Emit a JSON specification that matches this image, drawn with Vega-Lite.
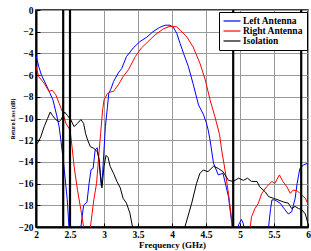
{
  "$schema": "https://vega.github.io/schema/vega-lite/v6.json",
  "width": 272,
  "height": 217,
  "autosize": {"type": "none"},
  "padding": {"left": 36, "top": 10, "right": 3, "bottom": 24},
  "background": "white",
  "config": {
    "view": {"stroke": "black", "strokeWidth": 1.5},
    "axis": {
      "labelFont": "Liberation Serif",
      "labelFontWeight": "bold",
      "labelFontSize": 9.5,
      "labelColor": "black",
      "labelOverlap": false,
      "titleFont": "Liberation Serif",
      "titleFontWeight": "bold",
      "titleColor": "black",
      "gridColor": "#999999",
      "gridWidth": 1,
      "gridOpacity": 1,
      "domainColor": "black",
      "domainWidth": 2,
      "tickColor": "black",
      "tickSize": -4,
      "tickWidth": 1
    }
  },
  "datasets": {
    "curves": [
      {"freq": 2.0, "loss": -4.2, "series": "Left Antenna"},
      {"freq": 2.04, "loss": -5.2, "series": "Left Antenna"},
      {"freq": 2.08, "loss": -6.0, "series": "Left Antenna"},
      {"freq": 2.15, "loss": -6.9, "series": "Left Antenna"},
      {"freq": 2.2, "loss": -7.6, "series": "Left Antenna"},
      {"freq": 2.25, "loss": -8.3, "series": "Left Antenna"},
      {"freq": 2.3, "loss": -9.6, "series": "Left Antenna"},
      {"freq": 2.34, "loss": -10.75, "series": "Left Antenna"},
      {"freq": 2.37, "loss": -12.2, "series": "Left Antenna"},
      {"freq": 2.4, "loss": -13.8, "series": "Left Antenna"},
      {"freq": 2.43, "loss": -15.6, "series": "Left Antenna"},
      {"freq": 2.46, "loss": -17.5, "series": "Left Antenna"},
      {"freq": 2.485, "loss": -20, "series": "Left Antenna"},
      {"freq": 2.5, "loss": -22, "series": "Left Antenna"},
      {"freq": 2.64, "loss": -22, "series": "Left Antenna"},
      {"freq": 2.66, "loss": -20, "series": "Left Antenna"},
      {"freq": 2.7, "loss": -18, "series": "Left Antenna"},
      {"freq": 2.75, "loss": -17.7, "series": "Left Antenna"},
      {"freq": 2.78, "loss": -16, "series": "Left Antenna"},
      {"freq": 2.81, "loss": -14.7, "series": "Left Antenna"},
      {"freq": 2.84, "loss": -14.6, "series": "Left Antenna"},
      {"freq": 2.87, "loss": -12.9, "series": "Left Antenna"},
      {"freq": 2.9, "loss": -12.7, "series": "Left Antenna"},
      {"freq": 2.92, "loss": -13.5, "series": "Left Antenna"},
      {"freq": 2.96, "loss": -16.2, "series": "Left Antenna"},
      {"freq": 2.98, "loss": -15.0, "series": "Left Antenna"},
      {"freq": 3.0, "loss": -12.9, "series": "Left Antenna"},
      {"freq": 3.02, "loss": -10.75, "series": "Left Antenna"},
      {"freq": 3.05, "loss": -9.0, "series": "Left Antenna"},
      {"freq": 3.07, "loss": -7.7, "series": "Left Antenna"},
      {"freq": 3.1, "loss": -7.3, "series": "Left Antenna"},
      {"freq": 3.14, "loss": -6.6, "series": "Left Antenna"},
      {"freq": 3.21, "loss": -5.8, "series": "Left Antenna"},
      {"freq": 3.26, "loss": -5.4, "series": "Left Antenna"},
      {"freq": 3.33, "loss": -4.3, "series": "Left Antenna"},
      {"freq": 3.43, "loss": -3.5, "series": "Left Antenna"},
      {"freq": 3.53, "loss": -2.9, "series": "Left Antenna"},
      {"freq": 3.63, "loss": -2.5, "series": "Left Antenna"},
      {"freq": 3.72, "loss": -2.0, "series": "Left Antenna"},
      {"freq": 3.82, "loss": -1.6, "series": "Left Antenna"},
      {"freq": 3.9, "loss": -1.4, "series": "Left Antenna"},
      {"freq": 3.97, "loss": -1.4, "series": "Left Antenna"},
      {"freq": 4.02, "loss": -1.6, "series": "Left Antenna"},
      {"freq": 4.07, "loss": -2.15, "series": "Left Antenna"},
      {"freq": 4.12, "loss": -3.1, "series": "Left Antenna"},
      {"freq": 4.17, "loss": -4.0, "series": "Left Antenna"},
      {"freq": 4.24, "loss": -5.2, "series": "Left Antenna"},
      {"freq": 4.31, "loss": -6.8, "series": "Left Antenna"},
      {"freq": 4.39, "loss": -8.75, "series": "Left Antenna"},
      {"freq": 4.46, "loss": -9.6, "series": "Left Antenna"},
      {"freq": 4.5, "loss": -10.3, "series": "Left Antenna"},
      {"freq": 4.53, "loss": -11.0, "series": "Left Antenna"},
      {"freq": 4.56, "loss": -12.0, "series": "Left Antenna"},
      {"freq": 4.61, "loss": -14.1, "series": "Left Antenna"},
      {"freq": 4.68, "loss": -15.2, "series": "Left Antenna"},
      {"freq": 4.75, "loss": -15.05, "series": "Left Antenna"},
      {"freq": 4.83, "loss": -17.2, "series": "Left Antenna"},
      {"freq": 4.88, "loss": -19.7, "series": "Left Antenna"},
      {"freq": 4.9, "loss": -21, "series": "Left Antenna"},
      {"freq": 4.96, "loss": -21, "series": "Left Antenna"},
      {"freq": 4.98, "loss": -19.8, "series": "Left Antenna"},
      {"freq": 5.02, "loss": -19.3, "series": "Left Antenna"},
      {"freq": 5.05, "loss": -19.7, "series": "Left Antenna"},
      {"freq": 5.07, "loss": -21, "series": "Left Antenna"},
      {"freq": 5.4, "loss": -22, "series": "Left Antenna"},
      {"freq": 5.42, "loss": -20, "series": "Left Antenna"},
      {"freq": 5.45, "loss": -18.3, "series": "Left Antenna"},
      {"freq": 5.47, "loss": -17.5, "series": "Left Antenna"},
      {"freq": 5.51, "loss": -17.5, "series": "Left Antenna"},
      {"freq": 5.59, "loss": -17.8, "series": "Left Antenna"},
      {"freq": 5.66, "loss": -18.4, "series": "Left Antenna"},
      {"freq": 5.71, "loss": -18.8, "series": "Left Antenna"},
      {"freq": 5.76, "loss": -18.6, "series": "Left Antenna"},
      {"freq": 5.81, "loss": -17.4, "series": "Left Antenna"},
      {"freq": 5.84, "loss": -16.0, "series": "Left Antenna"},
      {"freq": 5.88, "loss": -14.6, "series": "Left Antenna"},
      {"freq": 5.93, "loss": -14.3, "series": "Left Antenna"},
      {"freq": 6.0, "loss": -14.1, "series": "Left Antenna"},

      {"freq": 2.0, "loss": -5.2, "series": "Right Antenna"},
      {"freq": 2.04, "loss": -6.15, "series": "Right Antenna"},
      {"freq": 2.12, "loss": -6.75, "series": "Right Antenna"},
      {"freq": 2.19, "loss": -7.5, "series": "Right Antenna"},
      {"freq": 2.24, "loss": -7.4, "series": "Right Antenna"},
      {"freq": 2.29, "loss": -7.8, "series": "Right Antenna"},
      {"freq": 2.34, "loss": -8.6, "series": "Right Antenna"},
      {"freq": 2.39, "loss": -9.4, "series": "Right Antenna"},
      {"freq": 2.44, "loss": -10.45, "series": "Right Antenna"},
      {"freq": 2.5, "loss": -11.05, "series": "Right Antenna"},
      {"freq": 2.53, "loss": -12.6, "series": "Right Antenna"},
      {"freq": 2.56, "loss": -14.4, "series": "Right Antenna"},
      {"freq": 2.61, "loss": -16.6, "series": "Right Antenna"},
      {"freq": 2.66, "loss": -18.4, "series": "Right Antenna"},
      {"freq": 2.7, "loss": -20, "series": "Right Antenna"},
      {"freq": 2.72, "loss": -22, "series": "Right Antenna"},
      {"freq": 2.78, "loss": -22, "series": "Right Antenna"},
      {"freq": 2.8, "loss": -20, "series": "Right Antenna"},
      {"freq": 2.85, "loss": -17.5, "series": "Right Antenna"},
      {"freq": 2.89, "loss": -16.0, "series": "Right Antenna"},
      {"freq": 2.93, "loss": -12.9, "series": "Right Antenna"},
      {"freq": 2.95, "loss": -11.4, "series": "Right Antenna"},
      {"freq": 2.98, "loss": -9.2, "series": "Right Antenna"},
      {"freq": 3.0, "loss": -8.3, "series": "Right Antenna"},
      {"freq": 3.05, "loss": -7.7, "series": "Right Antenna"},
      {"freq": 3.1, "loss": -7.55, "series": "Right Antenna"},
      {"freq": 3.14, "loss": -7.5, "series": "Right Antenna"},
      {"freq": 3.21, "loss": -6.9, "series": "Right Antenna"},
      {"freq": 3.28, "loss": -6.15, "series": "Right Antenna"},
      {"freq": 3.36, "loss": -5.5, "series": "Right Antenna"},
      {"freq": 3.46, "loss": -4.3, "series": "Right Antenna"},
      {"freq": 3.55, "loss": -3.5, "series": "Right Antenna"},
      {"freq": 3.65, "loss": -2.9, "series": "Right Antenna"},
      {"freq": 3.75, "loss": -2.3, "series": "Right Antenna"},
      {"freq": 3.87, "loss": -1.75, "series": "Right Antenna"},
      {"freq": 3.97, "loss": -1.5, "series": "Right Antenna"},
      {"freq": 4.07, "loss": -1.55, "series": "Right Antenna"},
      {"freq": 4.12, "loss": -1.85, "series": "Right Antenna"},
      {"freq": 4.22, "loss": -2.5, "series": "Right Antenna"},
      {"freq": 4.31, "loss": -3.4, "series": "Right Antenna"},
      {"freq": 4.41, "loss": -4.9, "series": "Right Antenna"},
      {"freq": 4.49, "loss": -6.45, "series": "Right Antenna"},
      {"freq": 4.56, "loss": -8.3, "series": "Right Antenna"},
      {"freq": 4.63, "loss": -9.8, "series": "Right Antenna"},
      {"freq": 4.7, "loss": -11.5, "series": "Right Antenna"},
      {"freq": 4.73, "loss": -12.9, "series": "Right Antenna"},
      {"freq": 4.78, "loss": -14.75, "series": "Right Antenna"},
      {"freq": 4.83, "loss": -16.9, "series": "Right Antenna"},
      {"freq": 4.88, "loss": -19.4, "series": "Right Antenna"},
      {"freq": 4.9, "loss": -21, "series": "Right Antenna"},
      {"freq": 5.12, "loss": -21, "series": "Right Antenna"},
      {"freq": 5.15, "loss": -20, "series": "Right Antenna"},
      {"freq": 5.17, "loss": -19.05, "series": "Right Antenna"},
      {"freq": 5.22, "loss": -18.3, "series": "Right Antenna"},
      {"freq": 5.27, "loss": -17.8, "series": "Right Antenna"},
      {"freq": 5.32, "loss": -16.9, "series": "Right Antenna"},
      {"freq": 5.39, "loss": -16.3, "series": "Right Antenna"},
      {"freq": 5.47, "loss": -15.8, "series": "Right Antenna"},
      {"freq": 5.51, "loss": -16.0, "series": "Right Antenna"},
      {"freq": 5.58, "loss": -15.2, "series": "Right Antenna"},
      {"freq": 5.63, "loss": -15.8, "series": "Right Antenna"},
      {"freq": 5.69, "loss": -16.3, "series": "Right Antenna"},
      {"freq": 5.74, "loss": -16.9, "series": "Right Antenna"},
      {"freq": 5.78, "loss": -16.6, "series": "Right Antenna"},
      {"freq": 5.84, "loss": -16.65, "series": "Right Antenna"},
      {"freq": 5.88, "loss": -16.9, "series": "Right Antenna"},
      {"freq": 5.96, "loss": -17.35, "series": "Right Antenna"},
      {"freq": 6.0, "loss": -17.9, "series": "Right Antenna"},

      {"freq": 2.0, "loss": -12.4, "series": "Isolation"},
      {"freq": 2.02, "loss": -12.3, "series": "Isolation"},
      {"freq": 2.07, "loss": -11.7, "series": "Isolation"},
      {"freq": 2.12, "loss": -10.75, "series": "Isolation"},
      {"freq": 2.17, "loss": -10.0, "series": "Isolation"},
      {"freq": 2.21, "loss": -9.4, "series": "Isolation"},
      {"freq": 2.24, "loss": -9.7, "series": "Isolation"},
      {"freq": 2.29, "loss": -10.1, "series": "Isolation"},
      {"freq": 2.34, "loss": -10.3, "series": "Isolation"},
      {"freq": 2.37, "loss": -10.1, "series": "Isolation"},
      {"freq": 2.42, "loss": -9.4, "series": "Isolation"},
      {"freq": 2.46, "loss": -9.7, "series": "Isolation"},
      {"freq": 2.51, "loss": -10.1, "series": "Isolation"},
      {"freq": 2.56, "loss": -10.75, "series": "Isolation"},
      {"freq": 2.61, "loss": -10.45, "series": "Isolation"},
      {"freq": 2.66, "loss": -10.1, "series": "Isolation"},
      {"freq": 2.7, "loss": -10.45, "series": "Isolation"},
      {"freq": 2.73, "loss": -11.4, "series": "Isolation"},
      {"freq": 2.76, "loss": -12.0, "series": "Isolation"},
      {"freq": 2.8, "loss": -12.6, "series": "Isolation"},
      {"freq": 2.85, "loss": -12.75, "series": "Isolation"},
      {"freq": 2.9, "loss": -13.05, "series": "Isolation"},
      {"freq": 2.93, "loss": -13.8, "series": "Isolation"},
      {"freq": 2.95, "loss": -15.4, "series": "Isolation"},
      {"freq": 2.97, "loss": -16.4, "series": "Isolation"},
      {"freq": 3.0, "loss": -14.4, "series": "Isolation"},
      {"freq": 3.03, "loss": -13.4, "series": "Isolation"},
      {"freq": 3.06, "loss": -13.6, "series": "Isolation"},
      {"freq": 3.09, "loss": -14.4, "series": "Isolation"},
      {"freq": 3.14, "loss": -15.05, "series": "Isolation"},
      {"freq": 3.19, "loss": -15.8, "series": "Isolation"},
      {"freq": 3.24, "loss": -16.4, "series": "Isolation"},
      {"freq": 3.28, "loss": -17.35, "series": "Isolation"},
      {"freq": 3.33, "loss": -17.8, "series": "Isolation"},
      {"freq": 3.38, "loss": -18.7, "series": "Isolation"},
      {"freq": 3.42, "loss": -20, "series": "Isolation"},
      {"freq": 3.44, "loss": -22, "series": "Isolation"},
      {"freq": 4.15, "loss": -22, "series": "Isolation"},
      {"freq": 4.19, "loss": -20, "series": "Isolation"},
      {"freq": 4.24, "loss": -18.9, "series": "Isolation"},
      {"freq": 4.29, "loss": -17.8, "series": "Isolation"},
      {"freq": 4.36, "loss": -16.0, "series": "Isolation"},
      {"freq": 4.41, "loss": -15.05, "series": "Isolation"},
      {"freq": 4.46, "loss": -14.75, "series": "Isolation"},
      {"freq": 4.53, "loss": -14.9, "series": "Isolation"},
      {"freq": 4.61, "loss": -14.4, "series": "Isolation"},
      {"freq": 4.68, "loss": -14.6, "series": "Isolation"},
      {"freq": 4.75, "loss": -14.9, "series": "Isolation"},
      {"freq": 4.83, "loss": -15.7, "series": "Isolation"},
      {"freq": 4.9, "loss": -15.8, "series": "Isolation"},
      {"freq": 4.98, "loss": -15.5, "series": "Isolation"},
      {"freq": 5.05, "loss": -15.7, "series": "Isolation"},
      {"freq": 5.11, "loss": -15.5, "series": "Isolation"},
      {"freq": 5.17, "loss": -15.8, "series": "Isolation"},
      {"freq": 5.25, "loss": -15.8, "series": "Isolation"},
      {"freq": 5.29, "loss": -16.3, "series": "Isolation"},
      {"freq": 5.37, "loss": -16.75, "series": "Isolation"},
      {"freq": 5.42, "loss": -17.2, "series": "Isolation"},
      {"freq": 5.49, "loss": -17.35, "series": "Isolation"},
      {"freq": 5.56, "loss": -17.5, "series": "Isolation"},
      {"freq": 5.64, "loss": -17.7, "series": "Isolation"},
      {"freq": 5.71, "loss": -17.8, "series": "Isolation"},
      {"freq": 5.76, "loss": -18.3, "series": "Isolation"},
      {"freq": 5.81, "loss": -18.1, "series": "Isolation"},
      {"freq": 5.86, "loss": -18.3, "series": "Isolation"},
      {"freq": 5.91, "loss": -18.4, "series": "Isolation"},
      {"freq": 5.96, "loss": -18.8, "series": "Isolation"},
      {"freq": 6.0, "loss": -19.7, "series": "Isolation"}
    ],
    "bands": [
      {"freq": 2.4},
      {"freq": 2.5},
      {"freq": 4.9},
      {"freq": 5.9}
    ]
  },
  "layer": [
    {
      "data": {"name": "curves"},
      "mark": {"type": "line", "strokeWidth": 1, "clip": true},
      "encoding": {
        "x": {
          "field": "freq",
          "type": "quantitative",
          "scale": {"domain": [2, 6], "nice": false, "zero": false},
          "axis": {"values": [2, 2.5, 3, 3.5, 4, 4.5, 5, 5.5, 6], "format": "~g", "title": "Frequency (GHz)", "titleFontSize": 9, "titlePadding": 2, "labelPadding": 6, "labelFlush": false}
        },
        "y": {
          "field": "loss",
          "type": "quantitative",
          "scale": {"domain": [-20, 0], "nice": false, "zero": false},
          "axis": {"values": [0, -2, -4, -6, -8, -10, -12, -14, -16, -18, -20], "format": "~g", "title": "Return Loss (dB)", "titleFontSize": 5.5, "titlePadding": 3, "labelPadding": 7}
        },
        "color": {
          "field": "series",
          "type": "nominal",
          "scale": {"domain": ["Left Antenna", "Right Antenna", "Isolation"], "range": ["#0000ff", "#ff0000", "#000000"]},
          "legend": {
            "title": null,
            "orient": "none",
            "legendX": 183,
            "legendY": 2,
            "direction": "vertical",
            "strokeColor": "black",
            "fillColor": "white",
            "padding": 4,
            "rowPadding": 0,
            "symbolType": "M-2,0H2",
            "symbolSize": 72,
            "symbolStrokeWidth": 1.2,
            "symbolOffset": 4,
            "labelOffset": 6,
            "labelFont": "Liberation Serif",
            "labelFontWeight": "bold",
            "labelFontSize": 9.5,
            "labelColor": "black",
            "labelLimit": 120
          }
        },
        "order": {"field": "freq", "type": "quantitative"}
      }
    },
    {
      "data": {"name": "bands"},
      "mark": {"type": "rule", "color": "black", "strokeWidth": 2.2},
      "encoding": {
        "x": {"field": "freq", "type": "quantitative", "scale": {"domain": [2, 6], "nice": false, "zero": false},
          "axis": {"values": [2, 2.5, 3, 3.5, 4, 4.5, 5, 5.5, 6], "format": "~g", "title": "Frequency (GHz)", "titleFontSize": 9, "titlePadding": 2, "labelPadding": 6, "labelFlush": false}}
      }
    },
    {
      "mark": {"type": "rule", "color": "#0000ff", "strokeWidth": 2.2},
      "encoding": {
        "y": {"datum": -9.54, "type": "quantitative", "scale": {"domain": [-20, 0], "nice": false, "zero": false},
          "axis": {"values": [0, -2, -4, -6, -8, -10, -12, -14, -16, -18, -20], "format": "~g", "title": "Return Loss (dB)", "titleFontSize": 5.5, "titlePadding": 3, "labelPadding": 7}}
      }
    },
    {
      "mark": {"type": "text", "text": "VSWR=2", "color": "#3535cc", "font": "Liberation Sans", "fontWeight": "bold", "fontSize": 13.5, "align": "center", "baseline": "middle"},
      "encoding": {
        "x": {"datum": 3.86, "type": "quantitative", "scale": {"domain": [2, 6], "nice": false, "zero": false},
          "axis": {"values": [2, 2.5, 3, 3.5, 4, 4.5, 5, 5.5, 6], "format": "~g", "title": "Frequency (GHz)", "titleFontSize": 9, "titlePadding": 2, "labelPadding": 6, "labelFlush": false}},
        "y": {"datum": -8.45, "type": "quantitative", "scale": {"domain": [-20, 0], "nice": false, "zero": false},
          "axis": {"values": [0, -2, -4, -6, -8, -10, -12, -14, -16, -18, -20], "format": "~g", "title": "Return Loss (dB)", "titleFontSize": 5.5, "titlePadding": 3, "labelPadding": 7}}
      }
    }
  ]
}
